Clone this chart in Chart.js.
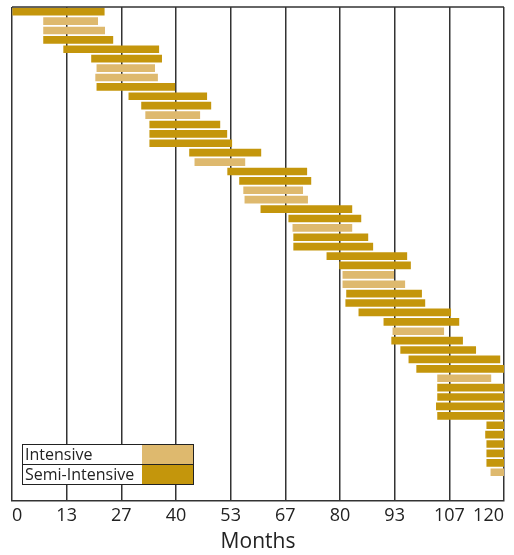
<!DOCTYPE html>
<html>
<head>
<meta charset="utf-8">
<script src="https://cdn.jsdelivr.net/npm/chart.js@4"></script>
<style>
  html, body { margin: 0; padding: 0; background: #fff; }
  #wrap { position: relative; width: 514px; height: 555px; }
  #legend {
    position: absolute; left: 22px; top: 444px; width: 170px;
    border: 1px solid #222; background: #fff;
    font-family: "Open Sans", sans-serif; font-size: 16px; color: #222;
  }
  #legend .row { display: flex; height: 19px; line-height: 19px; }
  #legend .row + .row { border-top: 1px solid #222; }
  #legend .txt { padding-left: 2px; flex: 1; white-space: nowrap; }
  #legend .sw { width: 51px; }
</style>
</head>
<body>
<div id="wrap">
  <canvas id="chart" width="514" height="555"></canvas>
  <div id="legend"></div>
</div>
<script>
const tickLabels = ["0", "13", "27", "40", "53", "67", "80", "93", "107", "120"];
const seriesNames = ["Intensive", "Semi-Intensive"];
const seriesColors = ["#DEB96E", "#C4960C"];

// one entry per row, top to bottom; type I = Intensive, S = Semi-Intensive
const barStart = [
  0, 7.7, 7.7, 7.7, 12.6, 19.4, 20.7, 20.4, 20.7, 28.5,
  31.6, 32.6, 33.6, 33.6, 33.6, 43.3, 44.6, 52.6, 55.5, 56.5,
  56.8, 60.7, 67.5, 68.5, 68.7, 68.7, 76.8, 79.9, 80.7, 80.7,
  81.6, 81.4, 84.6, 90.7, 92.9, 92.6, 94.8, 96.8, 98.7, 103.8,
  103.8, 103.8, 103.5, 103.8, 115.8, 115.5, 115.8, 115.8, 115.8, 116.8
];
const barEnd = [
  22.5, 20.9, 22.6, 24.6, 35.8, 36.5, 34.8, 35.5, 39.7, 47.5,
  48.5, 45.8, 50.7, 52.4, 53.6, 60.7, 56.8, 71.9, 72.9, 70.9,
  72.1, 82.9, 85.1, 82.9, 86.8, 88.0, 96.3, 97.2, 93.1, 95.8,
  99.9, 100.7, 107.0, 109.0, 105.3, 109.9, 113.1, 119.0, 120, 116.8,
  120, 120, 120, 120, 120, 120, 120, 120, 120, 120
];
const barType = [
  "S", "I", "I", "S", "S", "S", "I", "I", "S", "S",
  "S", "I", "S", "S", "S", "S", "I", "S", "S", "I",
  "I", "S", "S", "I", "S", "S", "S", "S", "I", "I",
  "S", "S", "S", "S", "I", "S", "S", "S", "S", "I",
  "S", "S", "S", "S", "S", "S", "S", "S", "S", "I"
];

const intensiveData = [];
const semiData = [];
barStart.forEach((s, i) => {
  const pt = { y: i + 1, x: [s, barEnd[i]] };
  if (barType[i] === "I") intensiveData.push(pt);
  else semiData.push(pt);
});

// legend box
const legend = document.getElementById("legend");
seriesNames.forEach((name, i) => {
  const row = document.createElement("div");
  row.className = "row";
  row.innerHTML = `<span class="txt">${name}</span><span class="sw" style="background:${seriesColors[i]}"></span>`;
  legend.appendChild(row);
});

const lineColor = "#333";

// top frame line
const topBorder = {
  id: "topBorder",
  afterDraw(chart) {
    const { ctx, chartArea } = chart;
    ctx.save();
    ctx.strokeStyle = lineColor;
    ctx.lineWidth = 1.5;
    ctx.beginPath();
    ctx.moveTo(chartArea.left, chartArea.top);
    ctx.lineTo(chartArea.right, chartArea.top);
    ctx.stroke();
    ctx.restore();
  },
};

new Chart(document.getElementById("chart").getContext("2d"), {
  type: "bar",
  data: {
    datasets: [
      {
        label: seriesNames[0],
        data: intensiveData,
        backgroundColor: seriesColors[0],
        barThickness: 7,
        grouped: false,
      },
      {
        label: seriesNames[1],
        data: semiData,
        backgroundColor: seriesColors[1],
        barThickness: 7,
        grouped: false,
      },
    ],
  },
  plugins: [topBorder],
  options: {
    indexAxis: "y",
    responsive: false,
    animation: false,
    layout: { padding: { left: 12, right: 10, top: 7, bottom: 2 } },
    plugins: {
      legend: { display: false },
      tooltip: { enabled: false },
    },
    scales: {
      y: {
        type: "linear",
        reverse: true,
        min: 0.5,
        max: 53,
        offset: false,
        grid: { offset: false },
        display: false,
      },
      x: {
        type: "linear",
        min: 0,
        max: 120,
        afterBuildTicks: (scale) => {
          scale.ticks = tickLabels.map((_, i) => ({ value: (i * 120) / (tickLabels.length - 1) }));
        },
        ticks: {
          callback: (v, i) => tickLabels[i],
          align: "inner",
          padding: 5,
          color: "#222",
          font: { family: "Open Sans", size: 18 },
        },
        grid: { color: lineColor, lineWidth: 1.5, drawTicks: false },
        border: { display: true, color: lineColor, width: 1.5 },
        title: {
          display: true,
          text: "Months",
          color: "#222",
          font: { family: "Open Sans", size: 21, lineHeight: 1 },
          padding: 0,
        },
      },
    },
  },
});
</script>
</body>
</html>
